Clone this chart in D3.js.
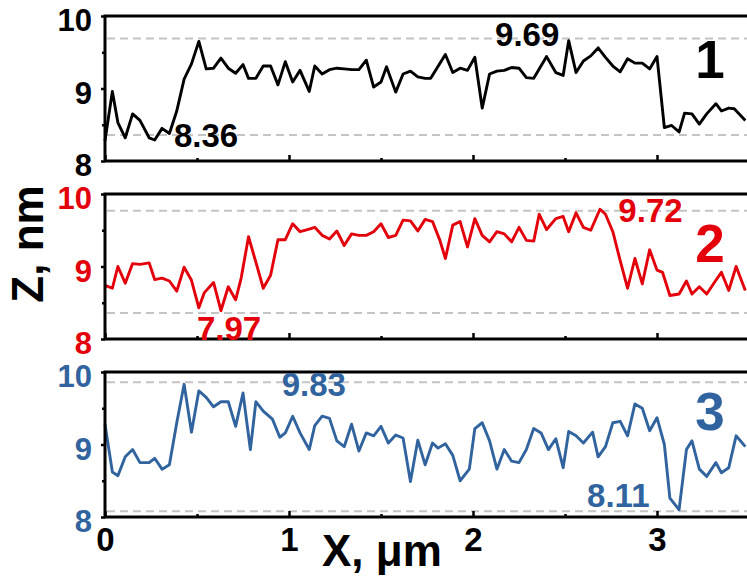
<!DOCTYPE html>
<html>
<head>
<meta charset="utf-8">
<script src="https://cdn.jsdelivr.net/npm/d3@7"></script>
<style>
  html, body { margin: 0; padding: 0; background: #fff; }
  svg { display: block; font-family: "Liberation Sans", Arial, sans-serif; }
</style>
</head>
<body>
<svg id="chart" width="747" height="583"></svg>
<script>
// Profile 1 (black)
const x1 = [0.00,0.04,0.07,0.11,0.15,0.19,0.24,0.27,0.31,0.35,0.39,0.43,0.47,0.51,0.55,0.59,0.63,0.67,0.71,0.75,
  0.78,0.82,0.86,0.90,0.94,0.98,1.02,1.06,1.11,1.14,1.18,1.22,1.26,1.30,1.34,1.38,1.42,1.46,1.50,1.53,
  1.58,1.62,1.66,1.70,1.74,1.77,1.85,1.89,1.93,1.97,2.01,2.05,2.09,2.13,2.17,2.21,2.25,2.29,2.33,2.40,
  2.45,2.49,2.52,2.56,2.60,2.64,2.68,2.72,2.76,2.80,2.84,2.88,2.92,2.96,3.00,3.04,3.08,3.12,3.15,3.19,
  3.23,3.27,3.32,3.35,3.39,3.42,3.48];
const z1 = [8.28,8.96,8.53,8.32,8.65,8.56,8.32,8.29,8.45,8.38,8.69,9.13,9.34,9.65,9.27,9.28,9.42,9.28,9.21,9.33,
  9.14,9.14,9.31,9.31,9.05,9.37,9.09,9.25,8.96,9.31,9.20,9.26,9.28,9.27,9.26,9.26,9.39,9.02,9.09,9.30,
  8.95,9.20,9.24,9.16,9.14,9.14,9.47,9.22,9.28,9.25,9.43,8.73,9.20,9.24,9.25,9.29,9.28,9.15,9.14,9.44,
  9.22,9.18,9.66,9.22,9.38,9.45,9.56,9.43,9.31,9.23,9.41,9.35,9.35,9.27,9.44,8.46,8.49,8.40,8.66,8.65,
  8.51,8.65,8.79,8.69,8.73,8.72,8.56];

// Profile 2 (red)
const x2 = [0.00,0.04,0.07,0.11,0.15,0.19,0.24,0.27,0.31,0.35,0.39,0.43,0.47,0.51,0.54,0.59,0.63,0.67,0.71,0.74,
  0.78,0.82,0.86,0.90,0.94,0.98,1.02,1.06,1.10,1.14,1.18,1.22,1.26,1.30,1.34,1.38,1.42,1.46,1.50,1.54,
  1.58,1.62,1.66,1.70,1.74,1.78,1.82,1.85,1.89,1.93,1.97,2.01,2.05,2.09,2.13,2.17,2.21,2.25,2.29,2.33,
  2.36,2.40,2.45,2.49,2.52,2.56,2.60,2.64,2.69,2.72,2.76,2.80,2.84,2.88,2.92,2.96,3.00,3.03,3.07,3.12,
  3.16,3.19,3.23,3.27,3.32,3.35,3.39,3.43,3.48];
const z2 = [8.74,8.70,9.00,8.77,9.04,9.03,9.05,8.82,8.84,8.80,8.66,8.99,8.81,8.43,8.64,8.78,8.39,8.72,8.54,8.84,
  9.41,9.06,8.70,8.88,9.37,9.37,9.59,9.48,9.51,9.54,9.43,9.38,9.49,9.29,9.45,9.43,9.43,9.48,9.59,9.40,
  9.43,9.64,9.63,9.49,9.65,9.62,9.36,9.11,9.57,9.62,9.27,9.66,9.43,9.34,9.48,9.45,9.34,9.54,9.36,9.35,
  9.72,9.51,9.66,9.69,9.48,9.74,9.54,9.50,9.79,9.72,9.48,9.08,8.70,9.11,8.76,9.23,8.95,8.92,8.60,8.62,
  8.80,8.62,8.72,8.62,8.81,8.92,8.67,9.00,8.67];

// Profile 3 (blue)
const x3 = [0.00,0.04,0.07,0.11,0.15,0.19,0.24,0.27,0.31,0.35,0.39,0.43,0.47,0.51,0.55,0.59,0.63,0.67,0.71,0.75,
  0.79,0.82,0.86,0.91,0.95,0.98,1.02,1.06,1.11,1.14,1.18,1.22,1.26,1.30,1.34,1.38,1.42,1.46,1.50,1.54,
  1.58,1.62,1.66,1.70,1.74,1.78,1.81,1.85,1.89,1.93,1.98,2.01,2.05,2.09,2.13,2.17,2.21,2.25,2.29,2.33,
  2.37,2.41,2.45,2.49,2.52,2.56,2.60,2.65,2.68,2.72,2.76,2.80,2.84,2.88,2.92,2.96,3.00,3.04,3.07,3.12,
  3.16,3.19,3.23,3.27,3.32,3.35,3.39,3.43,3.48];
const z3 = [9.28,8.62,8.57,8.83,8.93,8.75,8.75,8.81,8.66,8.72,9.30,9.83,9.17,9.74,9.65,9.52,9.59,9.59,9.25,9.71,
  8.93,9.59,9.46,9.35,9.10,9.16,9.39,9.16,8.93,9.26,9.39,9.36,9.05,8.97,9.28,8.91,9.16,9.12,9.25,9.02,
  9.13,9.09,8.49,9.06,8.72,9.02,8.95,9.01,8.85,8.50,8.66,9.22,9.30,9.05,8.66,8.93,8.77,8.75,8.93,9.22,
  9.16,8.93,9.08,8.68,9.18,9.12,9.02,9.17,8.83,8.97,9.30,9.32,9.12,9.56,9.50,9.19,9.37,9.00,8.26,8.10,
  8.93,9.05,8.66,8.56,8.75,8.61,8.68,9.12,8.97];

// dashed reference levels (max, min) and their printed values
const refLevels = [[9.69, 8.36], [9.77, 8.36], [9.86, 8.08]];
const refLabels = [["9.69", "8.36"], ["9.72", "7.97"], ["9.83", "8.11"]];
const panelNames = ["1", "2", "3"];

const xTicks = [0, 1, 2, 3];
const xMinorTicks = [0.5, 1.5, 2.5, 3.5];
const yTicks = [8, 9, 10];
const yMinorTicks = [8.5, 9.5];

const series = [[x1, z1], [x2, z2], [x3, z3]];

// style / layout
const colors = ["#000000", "#e3000b", "#31649e"];
const left = 105, panelTop = 16, panelH = 145, gap = 33;
// label placement: [x in um, offset px from level] for max / min label
const labelPos = [
  [[2.12, 7.5], [0.375, 12]],
  [[2.79, 11], [0.50, 27]],
  [[0.96, 14], [2.62, -4]]
];

const svg = d3.select("#chart");
const x = d3.scaleLinear().domain([0, 3.5]).range([left, left + 3.5 * 184]);

series.forEach(([xs, zs], i) => {
  const top = panelTop + i * (panelH + gap);
  const y = d3.scaleLinear().domain([8, 10]).range([top + panelH, top]);
  const col = colors[i];
  const g = svg.append("g");

  // dashed reference lines
  g.selectAll("line.ref")
    .data(refLevels[i])
    .join("line")
    .attr("class", "ref")
    .attr("x1", x(0) + 2).attr("x2", x(3.5))
    .attr("y1", d => y(d)).attr("y2", d => y(d))
    .attr("stroke", "#c4c4c4")
    .attr("stroke-width", 2)
    .attr("stroke-dasharray", "8,5");

  // profile
  const pts = xs.map((v, k) => [v, zs[k]]);
  g.append("path")
    .datum(pts)
    .attr("fill", "none")
    .attr("stroke", col)
    .attr("stroke-width", 2.9)
    .attr("stroke-linejoin", "round")
    .attr("d", d3.line().x(d => x(d[0])).y(d => y(d[1])));

  // x axis, ticks pointing inward
  const xa = g.append("g").attr("transform", `translate(0,${top + panelH})`);
  xa.call(d3.axisBottom(x).tickValues(xTicks).tickSize(-6).tickPadding(11)
    .tickFormat(i === 2 ? d3.format("d") : () => ""));
  xa.append("g").call(d3.axisBottom(x).tickValues(xMinorTicks).tickSize(-3).tickFormat(() => ""));
  xa.selectAll(".domain").remove();
  xa.selectAll("line").attr("stroke", "#000").attr("stroke-width", 2.5);
  xa.selectAll("text").attr("fill", "#000").style("font-size", "33px").style("font-weight", "bold");

  // y axis
  const ya = g.append("g").attr("transform", `translate(${left},0)`);
  ya.call(d3.axisLeft(y).tickValues(yTicks).tickSize(4).tickPadding(9).tickFormat(d3.format("d")));
  ya.append("g").call(d3.axisLeft(y).tickValues(yMinorTicks).tickSize(3).tickFormat(() => ""));
  ya.selectAll(".domain").remove();
  ya.selectAll("line").attr("stroke", "#000").attr("stroke-width", 2.5);
  ya.selectAll("text").attr("fill", col).attr("dy", "0.48em")
    .style("font-size", "31px").style("font-weight", "bold");

  // frame
  g.append("rect")
    .attr("x", x(0)).attr("y", top)
    .attr("width", x(3.5) - x(0)).attr("height", panelH)
    .attr("fill", "none").attr("stroke", "#000").attr("stroke-width", 3);

  // extreme value labels
  refLabels[i].forEach((t, k) => {
    g.append("text")
      .attr("x", x(labelPos[i][k][0]))
      .attr("y", y(refLevels[i][k]) + labelPos[i][k][1])
      .attr("fill", col)
      .style("font-size", "33px").style("font-weight", "bold")
      .text(t);
  });

  // panel number
  g.append("text")
    .attr("x", 710).attr("y", top + 62 + (i === 0 ? 0 : (i === 1 ? 6 : -4)))
    .attr("text-anchor", "middle")
    .attr("fill", col)
    .style("font-size", "53px").style("font-weight", "bold")
    .text(panelNames[i]);
});

// axis titles
svg.append("text")
  .attr("x", 322).attr("y", 566)
  .style("font-size", "44px").style("font-weight", "bold")
  .text("X, μm");

svg.append("text")
  .attr("transform", "translate(43,244) rotate(-90)")
  .attr("text-anchor", "middle")
  .style("font-size", "44px").style("font-weight", "bold")
  .text("Z, nm");
</script>
</body>
</html>
